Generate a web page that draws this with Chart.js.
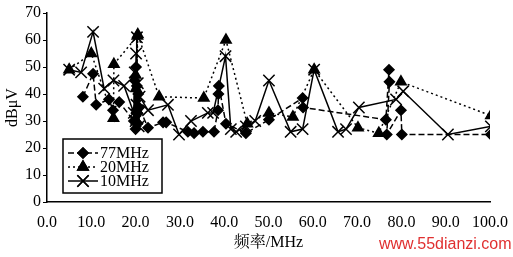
<!DOCTYPE html>
<html><head><meta charset="utf-8">
<script src="https://cdn.jsdelivr.net/npm/chart.js@4/dist/chart.umd.min.js"></script>
<style>html,body{margin:0;padding:0;background:#fff}#wrap{width:513px;height:257px;position:relative}</style>
</head><body><div id="wrap"><canvas id="c" width="513" height="257"></canvas></div>
<script>
const seriesNames = ['77MHz', '20MHz', '10MHz'];
const freq77 = [8.1, 10.4, 11.1, 14.0, 14.9, 16.3, 19.6, 19.8, 20.0, 20.1, 20.2, 20.3, 20.4, 20.6, 20.8, 22.8, 26.2, 26.9, 31.8, 33.2, 35.2, 37.7, 38.6, 38.7, 38.8, 40.4, 44.9, 50.1, 57.7, 57.8, 76.5, 77.2, 77.3, 76.7, 79.9, 80.1, 100.2];
const level77 = [39, 47.5, 36, 38, 34, 37, 30, 45, 27, 50, 33, 43, 29, 40, 35, 27.5, 29.5, 29.5, 26, 25.5, 26, 26, 34, 40, 43, 29, 25.5, 30.5, 38.5, 35, 30.5, 49, 44.5, 25, 34, 25, 25];
const freq20 = [5.0, 10.0, 15.0, 15.1, 20.4, 20.2, 20.0, 20.3, 20.1, 20.5, 25.3, 35.4, 40.4, 45.2, 50.1, 55.5, 60.3, 70.2, 74.9, 79.9, 100.2];
const level20 = [49, 55, 31, 51, 61.5, 30, 47, 34, 42, 62, 39, 38.5, 60, 29, 33, 31.5, 49, 27.5, 25.5, 44.5, 32];
const freq10 = [5.0, 7.7, 10.4, 12.9, 15.0, 17.4, 19.6, 19.8, 20.0, 20.1, 20.2, 20.3, 20.4, 20.5, 20.7, 20.9, 22.8, 27.3, 29.8, 32.5, 36.3, 37.5, 40.3, 41.5, 42.7, 44.9, 47.0, 50.1, 55.0, 57.7, 60.3, 65.7, 67.5, 70.4, 78.8, 80.4, 90.5, 100.2];
const level10 = [49, 48, 63, 42, 45, 43, 33, 48, 30, 55, 36, 61, 31, 44, 28, 39, 34, 36, 25, 30, 33, 33, 54, 27, 26, 28, 30, 45, 26, 27, 49, 26, 27, 35, 38, 41, 25, 28];
const xTickValues = [0, 10, 20, 30, 40, 50, 60, 70, 80, 90, 100];
const yTickValues = [0, 10, 20, 30, 40, 50, 60, 70];
const xTitle = '频率/MHz';
const yTitle = 'dBμV';
const watermark = 'www.55dianzi.com';

const SERIF = "'Liberation Serif', 'Times New Roman', 'Noto Serif CJK SC', 'Noto Sans CJK SC', serif";
function pts(xs, ys) { return xs.map((x, i) => ({x: x, y: ys[i]})); }

const styles = [
  {dash: [6, 3], pointStyle: 'rectRot', r: 5},
  {dash: [2, 3], pointStyle: 'triangle', r: 6},
  {dash: [], pointStyle: 'crossRot', r: 8}
];
const dataSets = [pts(freq77, level77), pts(freq20, level20), pts(freq10, level10)];

const legendPlugin = {
  id: 'boxLegend',
  afterDraw(chart) {
    const ctx = chart.ctx;
    ctx.save();
    const bx = 63, by = 139, bw = 99, bh = 54;
    ctx.fillStyle = '#fff';
    ctx.fillRect(bx, by, bw, bh);
    ctx.strokeStyle = '#000';
    ctx.lineWidth = 1.5;
    ctx.strokeRect(bx, by, bw, bh);
    const rows = [153, 167, 181];
    chart.data.datasets.forEach((ds, i) => {
      const y = rows[i];
      const st = styles[i];
      ctx.setLineDash(st.dash);
      ctx.lineWidth = 1.5;
      ctx.strokeStyle = '#000';
      ctx.beginPath(); ctx.moveTo(68, y); ctx.lineTo(98, y); ctx.stroke();
      ctx.setLineDash([]);
      Chart.helpers.drawPoint(ctx, {pointStyle: st.pointStyle, radius: st.r, borderWidth: 1.5}, 83, y);
      ctx.fillStyle = '#000';
      ctx.fill();
      ctx.stroke();
      ctx.font = '16px ' + SERIF;
      ctx.textBaseline = 'middle';
      ctx.textAlign = 'left';
      ctx.fillText(ds.label, 100, y + 1);
    });
    ctx.font = "16px 'Liberation Sans', Arial, sans-serif";
    ctx.fillStyle = '#e03030';
    ctx.textBaseline = 'middle';
    ctx.textAlign = 'left';
    ctx.fillText(watermark, 379, 245);
    ctx.restore();
  }
};

new Chart(document.getElementById('c'), {
  type: 'scatter',
  data: {
    datasets: seriesNames.map((name, i) => ({
      label: name,
      data: dataSets[i],
      showLine: true,
      borderColor: '#000',
      backgroundColor: '#000',
      borderWidth: 1.5,
      borderDash: styles[i].dash,
      pointStyle: styles[i].pointStyle,
      pointRadius: styles[i].r,
      pointBorderWidth: 1.5,
      pointBorderColor: '#000',
      pointBackgroundColor: '#000',
      tension: 0
    }))
  },
  options: {
    responsive: false,
    animation: false,
    devicePixelRatio: 1,
    layout: {padding: {left: 0, top: 13, right: 23, bottom: 0}},
    plugins: {legend: {display: false}, tooltip: {enabled: false}},
    scales: {
      x: {
        type: 'linear', min: 0, max: 100,
        afterBuildTicks: s => { s.ticks = xTickValues.map(v => ({value: v})); },
        afterFit: s => { s.height = 55; s.paddingLeft = 0; s.paddingRight = 0; },
        grid: {display: true, drawOnChartArea: false, drawTicks: false},
        border: {display: true, color: '#000', width: 1.5},
        ticks: {color: '#000', padding: 11, maxRotation: 0, autoSkip: false,
          font: {family: SERIF, size: 16},
          callback: v => v.toFixed(1)},
        title: {display: true, text: xTitle, color: '#000', font: {family: SERIF, size: 16}, padding: {top: 0, bottom: 5}}
      },
      y: {
        type: 'linear', min: 0, max: 70,
        afterBuildTicks: s => { s.ticks = yTickValues.map(v => ({value: v})); },
        afterFit: s => { s.width = 47; s.paddingTop = 0; s.paddingBottom = 0; },
        grid: {display: true, drawOnChartArea: false, drawTicks: true, tickLength: 4, color: '#000', lineWidth: 1},
        border: {display: true, color: '#000', width: 1.5},
        ticks: {color: '#000', padding: 2, font: {family: SERIF, size: 16}},
        title: {display: true, text: yTitle, color: '#000', font: {family: SERIF, size: 16}, padding: {top: 3, bottom: 0}}
      }
    }
  },
  plugins: [legendPlugin]
});
</script>
</body></html>
